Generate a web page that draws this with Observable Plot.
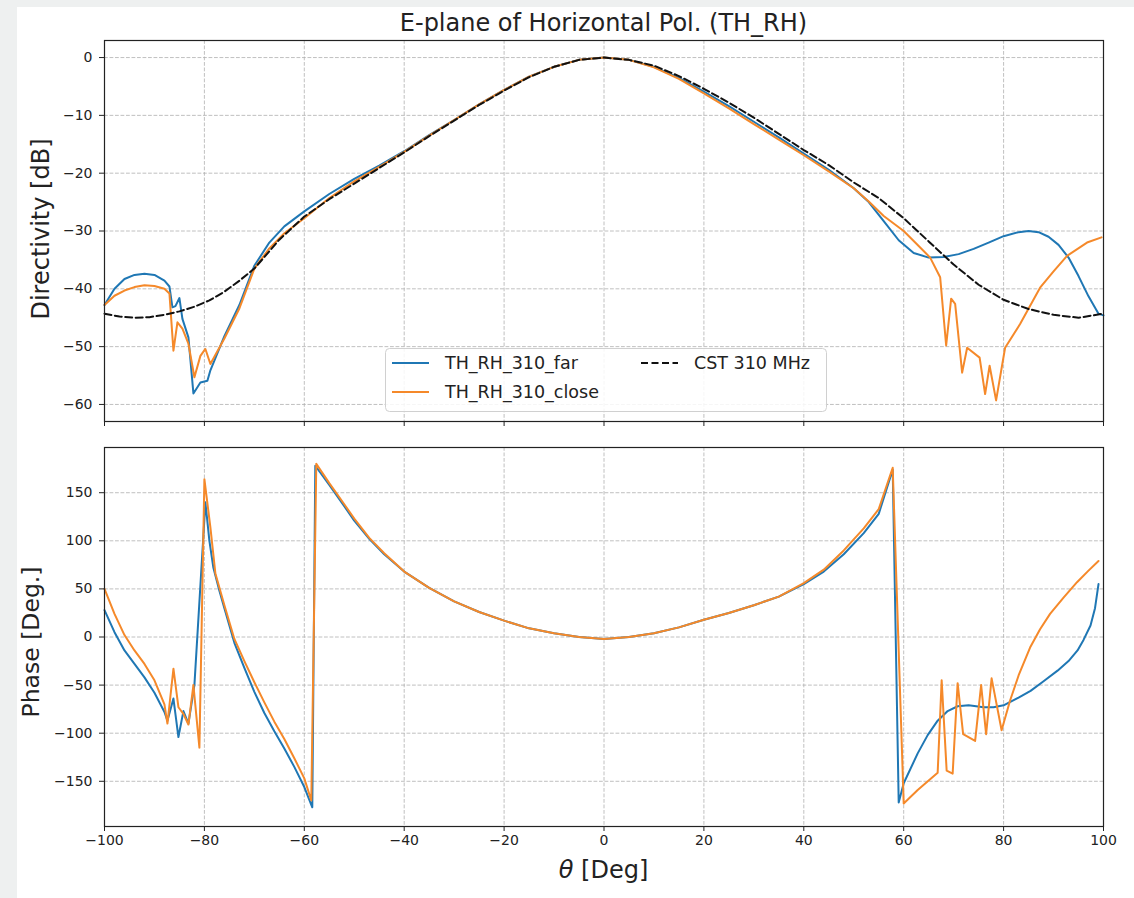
<!DOCTYPE html>
<html>
<head>
<meta charset="utf-8">
<script src="https://cdn.jsdelivr.net/npm/d3@7"></script>
<script src="https://cdn.jsdelivr.net/npm/@observablehq/plot@0.6"></script>
<style>
  html, body { margin: 0; padding: 0; background: #eef0f0; }
  #wrap { position: relative; width: 1134px; height: 898px; overflow: hidden; }
  #paper { position: absolute; left: 17px; top: 7px; right: 0; bottom: 0; background: #ffffff; }
  #overlay { position: absolute; left: 0; top: 0; }
</style>
</head>
<body>
<div id="wrap"><div id="paper"></div></div>
<script>
// ---------- tick values ----------
const xTicks = [-100, -80, -60, -40, -20, 0, 20, 40, 60, 80, 100];
const dirTicks = [0, -10, -20, -30, -40, -50, -60];
const phaseTicks = [150, 100, 50, 0, -50, -100, -150];

// ---------- series names ----------
const seriesNames = ["TH_RH_310_far", "TH_RH_310_close", "CST 310 MHz"];
const seriesColors = ["#1f77b4", "#f5892a", "#111111"];

// ---------- Directivity: CST 310 MHz ----------
const cstTheta = [-100,-97,-94,-91,-88,-85,-82,-79,-76,-73,-70,-65,-60,-55,-50,-45,-40,-35,-30,-25,-20,-15,-10,-5,0,5,10,15,20,25,30,35,40,45,50,55,60,65,70,75,80,85,90,95,100];
const cstDir   = [-44.3,-44.8,-45.0,-44.9,-44.5,-43.9,-43.1,-42.0,-40.5,-38.6,-36.5,-31.5,-27.5,-24.5,-21.8,-19.1,-16.4,-13.6,-10.9,-8.2,-5.7,-3.4,-1.6,-0.4,0,-0.4,-1.4,-3.2,-5.4,-7.8,-10.4,-13.2,-16.0,-18.6,-21.6,-24.3,-27.8,-31.8,-35.8,-39.3,-41.9,-43.5,-44.5,-45.0,-44.3];

// ---------- Directivity: far ----------
const farDirTheta = [-100,-98,-96,-94,-92,-90,-88,-87,-86.4,-85.8,-85,-84.4,-83.2,-82.2,-80.8,-79.4,-78.8,-76,-73,-70,-67,-64,-60,-55,-50,-45,-40,-35,-30,-25,-20,-15,-10,-5,0,5,10,15,20,25,30,35,40,45,50,53,56,59,62,65,68,71,74,77,80,83,85,87,89,91,93,95,97,99,100];
const farDir      = [-42.8,-40.0,-38.3,-37.6,-37.4,-37.6,-38.6,-39.6,-43.2,-43.0,-41.6,-45.2,-48.4,-58.1,-56.2,-55.9,-54.1,-48.2,-42.8,-36.0,-32.0,-29.2,-26.6,-23.6,-21.0,-18.7,-16.2,-13.4,-10.8,-8.1,-5.6,-3.3,-1.6,-0.4,0,-0.4,-1.6,-3.5,-5.9,-8.4,-11.1,-13.8,-16.6,-19.4,-22.6,-25.0,-28.3,-31.6,-33.8,-34.6,-34.5,-34.0,-33.1,-32.0,-30.9,-30.2,-30.0,-30.2,-31.0,-32.4,-34.6,-37.8,-41.3,-44.3,-44.6];

// ---------- Directivity: close ----------
const closeDirTheta = [-100,-98,-96,-94,-92,-90,-88,-87,-86.2,-85.4,-84.4,-83.2,-82,-80.8,-79.8,-78.8,-76,-73,-70,-67,-64,-60,-55,-50,-45,-40,-35,-30,-25,-20,-15,-10,-5,0,5,10,15,20,25,30,35,40,45,50,53,56,60,63,65.3,67.3,68.5,69.5,70.3,71.7,72.7,75.2,76.3,77.2,78.5,80.3,83.3,87.3,90,92.7,96.7,99.6];
const closeDir      = [-42.8,-41.2,-40.3,-39.7,-39.4,-39.5,-40.0,-40.8,-50.7,-45.8,-46.9,-49.5,-55.3,-51.6,-50.4,-53.0,-48.6,-43.4,-36.5,-33.0,-30.4,-27.8,-24.3,-21.4,-18.9,-16.3,-13.5,-10.8,-8.1,-5.6,-3.3,-1.6,-0.4,0,-0.4,-1.7,-3.7,-6.2,-8.8,-11.5,-14.2,-16.9,-19.7,-22.6,-24.9,-27.4,-30.0,-32.6,-34.6,-38.0,-49.8,-41.7,-42.6,-54.5,-50.2,-51.9,-58.2,-53.3,-59.3,-50.2,-46.1,-39.8,-37.0,-34.3,-32.0,-31.1];

// ---------- Phase: far ----------
const farPhTheta = [-100,-98,-96,-94,-92,-90,-88,-87.4,-86.2,-85.2,-84.2,-83.2,-82,-79.8,-79,-78.2,-77,-76,-74,-72,-70,-68,-66,-64,-62,-60,-58.4,-57.8,-55,-52,-50,-47,-44,-40,-35,-30,-25,-20,-15,-10,-5,0,5,10,15,20,25,30,35,40,44,48,52,55,57.8,59,60,62.8,64.8,66.8,68.8,70.8,73,76,78,80,83,85.4,88,90.8,93,94.8,96,97.4,98.3,99];
const farPh      = [28,5,-14,-28,-42,-58,-78,-87,-64,-104,-77,-90,-50,140,100,72,48,30,-6,-32,-57,-79,-98,-116,-135,-156,-177,178,158,136,121,102,86,68,51,37,26,17,9,4,0,-2,0,4,10,18,25,33,42,55,68,86,108,128,174,-172,-152,-121,-102,-87,-77,-72,-71,-73,-73,-71,-63,-56,-46,-35,-25,-14,-3,12,30,55];

// ---------- Phase: close ----------
const closePhTheta = [-100,-98,-96,-94,-92,-90,-88,-87.4,-86.2,-85.2,-84.2,-83.2,-82.2,-81,-80,-78.8,-77.8,-76,-74,-72,-70,-68,-66,-64,-62,-60,-58.6,-57.6,-55,-52,-50,-47,-44,-40,-35,-30,-25,-20,-15,-10,-5,0,5,10,15,20,25,30,35,40,44,48,52,55,57.8,60,62.8,66.8,67.6,68.6,69.8,70.8,71.9,74.3,75.5,76.5,77.6,79.6,81.3,83,85.3,87.3,89.3,92,94.7,97,99];
const closePh      = [50,24,2,-14,-28,-45,-70,-90,-33,-73,-80,-91,-50,-115,164,114,66,33,-2,-25,-47,-68,-88,-106,-126,-147,-170,180,160,138,123,103,87,68,51,37,26,17,9,4,0,-2,0,4,10,18,25,33,42,56,70,90,113,133,176,-173,-159,-141,-45,-139,-142,-48,-101,-108,-50,-101,-43,-97,-66,-40,-11,8,24,41,57,69,79];

const zip = (t, v) => t.map((x, i) => ({x, y: v[i]}));

const gridStyle = {stroke: "#b0b0b0", strokeOpacity: 1, strokeWidth: 0.8, strokeDasharray: "3.8,1.7"};
const W = 1134;
const TICK_FS = 14;
const fontStyle = {fontFamily: "DejaVu Sans, sans-serif", fontSize: TICK_FS + "px", background: "transparent", overflow: "visible"};

// ---------- Top panel: Directivity ----------
const topPlot = Plot.plot({
  width: W, height: 432,
  marginLeft: 104, marginRight: 31, marginTop: 40, marginBottom: 11,
  style: fontStyle,
  x: {domain: [-100, 100]},
  y: {domain: [-62.95, 2.95]},
  marks: [
    Plot.gridX({ticks: xTicks, ...gridStyle}),
    Plot.gridY({ticks: dirTicks, ...gridStyle}),
    Plot.line(zip(farDirTheta, farDir), {x: "x", y: "y", stroke: seriesColors[0], strokeWidth: 2}),
    Plot.line(zip(closeDirTheta, closeDir), {x: "x", y: "y", stroke: seriesColors[1], strokeWidth: 2}),
    Plot.line(zip(cstTheta, cstDir), {x: "x", y: "y", stroke: seriesColors[2], strokeWidth: 2, strokeDasharray: "7,3.5"}),
    Plot.frame({stroke: "#222", strokeWidth: 1.2}),
    Plot.axisX({ticks: xTicks, tickSize: 5, tickFormat: () => "", label: null, color: "#222"}),
    Plot.axisY({ticks: dirTicks, tickSize: 5, tickPadding: 7, label: null, color: "#222", fontSize: TICK_FS})
  ]
});
topPlot.style.position = "absolute";
topPlot.style.left = "0px";
topPlot.style.top = "0px";

// ---------- Bottom panel: Phase ----------
const bottomPlot = Plot.plot({
  width: W, height: 466,
  marginLeft: 104, marginRight: 31, marginTop: 15, marginBottom: 72,
  style: fontStyle,
  x: {domain: [-100, 100]},
  y: {domain: [-197, 197]},
  marks: [
    Plot.gridX({ticks: xTicks, ...gridStyle}),
    Plot.gridY({ticks: phaseTicks, ...gridStyle}),
    Plot.line(zip(farPhTheta, farPh), {x: "x", y: "y", stroke: seriesColors[0], strokeWidth: 2}),
    Plot.line(zip(closePhTheta, closePh), {x: "x", y: "y", stroke: seriesColors[1], strokeWidth: 2}),
    Plot.frame({stroke: "#222", strokeWidth: 1.2}),
    Plot.axisX({ticks: xTicks, tickSize: 5, tickPadding: 4, label: null, color: "#222", fontSize: TICK_FS}),
    Plot.axisY({ticks: phaseTicks, tickSize: 5, tickPadding: 7, label: null, color: "#222", fontSize: TICK_FS})
  ]
});
bottomPlot.style.position = "absolute";
bottomPlot.style.left = "0px";
bottomPlot.style.top = "432px";

const wrap = document.getElementById("wrap");
wrap.appendChild(topPlot);
wrap.appendChild(bottomPlot);

// ---------- Text overlay: title, axis labels, legend ----------
const ns = "http://www.w3.org/2000/svg";
const ov = document.createElementNS(ns, "svg");
ov.setAttribute("id", "overlay");
ov.setAttribute("width", W);
ov.setAttribute("height", 898);
ov.style.fontFamily = "DejaVu Sans, sans-serif";
function el(tag, attrs, text) {
  const e = document.createElementNS(ns, tag);
  for (const k in attrs) e.setAttribute(k, attrs[k]);
  if (text != null) e.textContent = text;
  ov.appendChild(e);
  return e;
}
el("text", {x: 603.5, y: 31, "text-anchor": "middle", "font-size": 24, fill: "#222"}, "E-plane of Horizontal Pol. (TH_RH)");
el("text", {transform: "translate(49,229) rotate(-90)", "text-anchor": "middle", "font-size": 24, fill: "#222"}, "Directivity [dB]");
el("text", {transform: "translate(39,642) rotate(-90)", "text-anchor": "middle", "font-size": 23.5, fill: "#222"}, "Phase [Deg.]");
const xl = el("text", {x: 603.5, y: 878, "text-anchor": "middle", "font-size": 24, fill: "#222"});
const th = document.createElementNS(ns, "tspan");
th.setAttribute("font-style", "italic");
th.textContent = "θ";
xl.appendChild(th);
xl.appendChild(document.createTextNode(" [Deg]"));

// legend
el("rect", {x: 385.5, y: 348.5, width: 441, height: 63, rx: 4, fill: "#ffffff", "fill-opacity": 0.85, stroke: "#d0d0d0", "stroke-width": 1});
const legendRows = [
  {x: 392, y: 363, name: seriesNames[0], color: seriesColors[0], dash: null},
  {x: 392, y: 392, name: seriesNames[1], color: seriesColors[1], dash: null},
  {x: 641, y: 363, name: seriesNames[2], color: seriesColors[2], dash: "7,3.5"}
];
for (const r of legendRows) {
  const a = {x1: r.x, x2: r.x + 37, y1: r.y, y2: r.y, stroke: r.color, "stroke-width": 2};
  if (r.dash) a["stroke-dasharray"] = r.dash;
  el("line", a);
  el("text", {x: r.x + 53, y: r.y + 6, "font-size": 17.5, fill: "#222"}, r.name);
}
wrap.appendChild(ov);
</script>
</body>
</html>
